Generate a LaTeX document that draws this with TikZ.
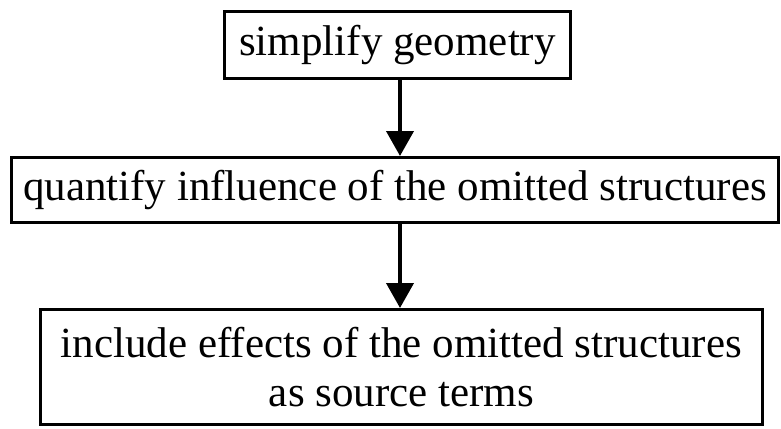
\documentclass[tikz,border=0pt]{standalone}
\usepackage{fontspec}
\setmainfont{Liberation Serif}
\usetikzlibrary{arrows.meta,positioning}

\begin{document}
\begin{tikzpicture}[x=1pt,y=-1pt,>={Triangle[length=25pt,width=27pt]},
  stepbox/.style={draw,line width=3pt,inner sep=0pt,align=center,font=\fontsize{43}{49}\selectfont},
  flow/.style={->,line width=4pt}]
\useasboundingbox (0,0) rectangle (781,428);
\node[stepbox,minimum width=346pt,minimum height=67pt] (simp) at (397.5,45) {simplify geometry};
\node[stepbox,minimum width=767pt,minimum height=65pt] (quant) at (395,190) {quantify influence of the omitted structures};
\node[stepbox,minimum width=722pt,minimum height=115pt] (incl) at (401.5,367) {include effects of the omitted structures\\as source terms};
\coordinate (ax) at (400,0);
\draw[flow] (simp.south -| ax) -- (quant.north -| ax);
\draw[flow] (quant.south -| ax) -- (incl.north -| ax);
\end{tikzpicture}
\end{document}
